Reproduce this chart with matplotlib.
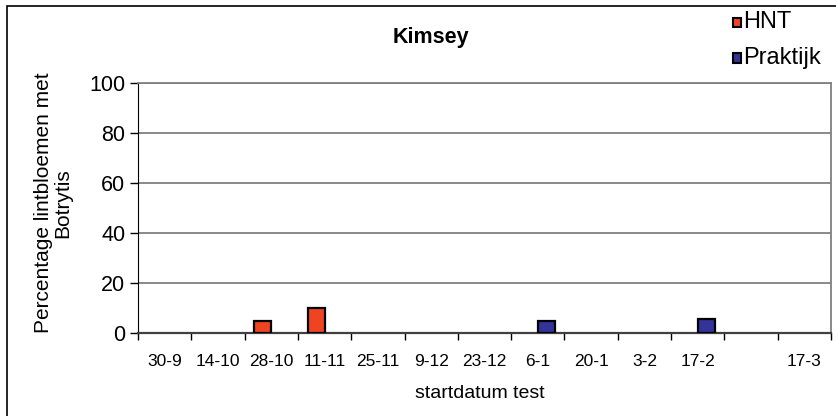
import numpy as np
import matplotlib
matplotlib.use('Agg')
import matplotlib.pyplot as plt
from matplotlib.patches import Rectangle
from matplotlib.transforms import blended_transform_factory

plt.rcParams['font.family'] = ['Liberation Sans', 'DejaVu Sans']

# data
categories = ['30-9', '14-10', '28-10', '11-11', '25-11', '9-12', '23-12',
              '6-1', '20-1', '3-2', '17-2', '', '17-3']
hnt = [0, 0, 5, 10, 0, 0, 0, 0, 0, 0, 0, 0, 0]
praktijk = [0, 0, 0, 0, 0, 0, 0, 5, 0, 0, 5.6, 0, 0]
y_ticks = [0, 20, 40, 60, 80, 100]

fig = plt.figure(figsize=(8.37, 4.16), dpi=100)
W, H = 837, 416
ax = fig.add_axes([138 / W, 1 - 333 / H, (831 - 138) / W, (333 - 83) / H])

x = np.arange(len(categories))
bw = 0.32
for i in x:
    if hnt[i] > 0:
        ax.bar(i - bw / 2, hnt[i], width=bw, color='#EE4422', edgecolor='black',
               linewidth=1.6, zorder=3)
    if praktijk[i] > 0:
        ax.bar(i + bw / 2, praktijk[i], width=bw, color='#333399', edgecolor='black',
               linewidth=1.6, zorder=3)

ax.set_xlim(-0.5, len(categories) - 0.5)
ax.set_ylim(0, 100)
ax.set_yticks(y_ticks)
ax.set_yticklabels([str(v) for v in y_ticks], fontsize=15.5)
ax.yaxis.grid(True, color='#808080', linewidth=1.3)
ax.set_axisbelow(True)

# category labels in the middle, ticks on the boundaries
ax.set_xticks(np.arange(len(categories) + 1) - 0.5)
ax.set_xticklabels([])
ax.tick_params(axis='x', length=5, width=1, color='black', direction='out')
ax.tick_params(axis='y', length=6, width=1, color='black', direction='out', pad=3)
tr = blended_transform_factory(ax.transData, fig.transFigure)
for i, c in enumerate(categories):
    ax.text(i, 1 - 361 / H, c, ha='center', va='center', fontsize=12.5,
            transform=tr, clip_on=False)

for s in ['top', 'right']:
    ax.spines[s].set_color('#808080')
    ax.spines[s].set_linewidth(1.3)
ax.spines['left'].set_color('black')
ax.spines['bottom'].set_color('#404040')
ax.spines['bottom'].set_linewidth(1.6)

fig.text(480 / W, 1 - 394 / H, 'startdatum test', ha='center', va='center', fontsize=14)
fig.text(53 / W, 1 - 203 / H, 'Percentage lintbloemen met\nBotrytis', ha='center',
         va='center', rotation=90, fontsize=15, linespacing=1.05)
fig.text(431 / W, 1 - 37 / H, 'Kimsey', ha='center', va='center', fontsize=15.5,
         fontweight='bold')

# legend
for lab, col, yy in [('HNT', '#EE4422', 22.5), ('Praktijk', '#333399', 58)]:
    fig.patches.append(Rectangle((733 / W, 1 - (yy + 4.5) / H), 8.5 / W, 9 / H,
                                 facecolor=col, edgecolor='black', linewidth=1.5,
                                 transform=fig.transFigure))
    fig.text(743 / W, 1 - yy / H, lab, ha='left', va='center', fontsize=17)

# outer frame (right and bottom edges fall outside the picture)
fig.patches.append(Rectangle((7 / W, -0.1), 1.2, 1.1 - 6 / H,
                             fill=False, edgecolor='black', linewidth=1.2,
                             transform=fig.transFigure))

fig.savefig('out.png', dpi=100)
